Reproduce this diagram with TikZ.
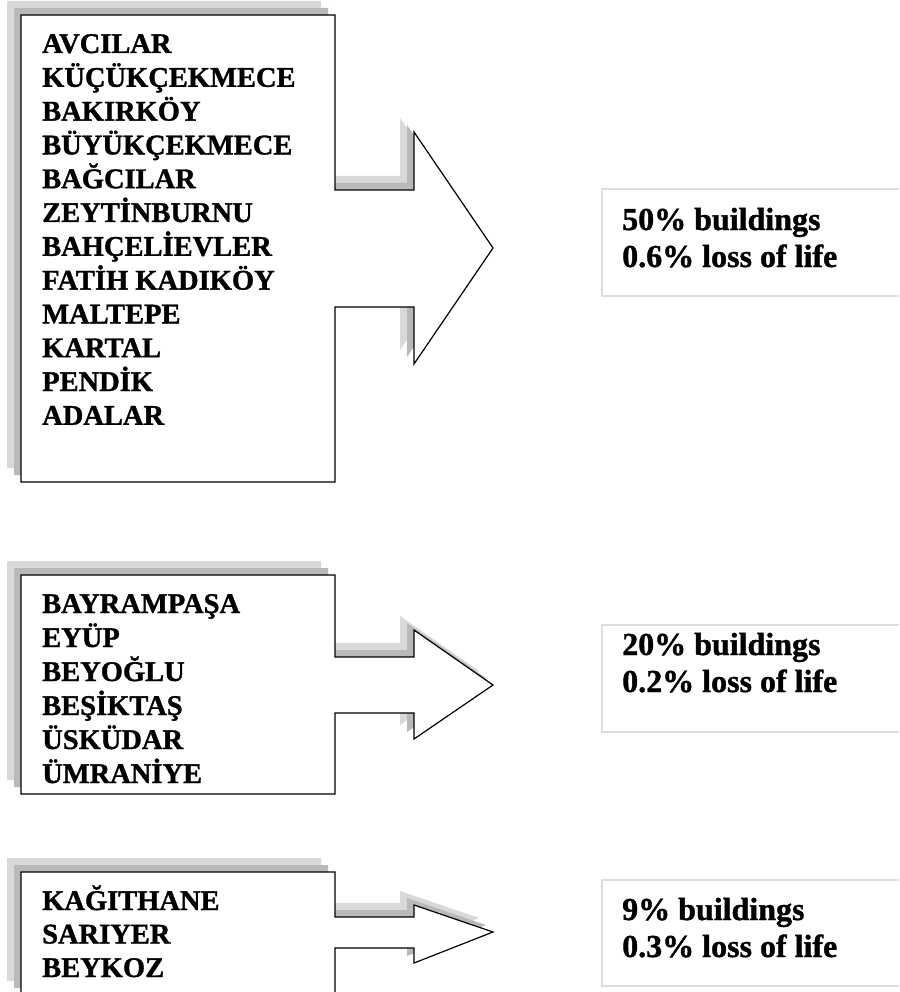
\documentclass[tikz,border=0pt]{standalone}
\usepackage{fontspec}
\setmainfont{Liberation Serif}[BoldFeatures={FakeBold=1.2}]

\tikzset{
  district/.style={anchor=base west, inner sep=0pt, font=\bfseries\fontsize{28.5}{34}\selectfont},
  effect/.style={anchor=base west, inner sep=0pt, font=\bfseries\fontsize{32}{37}\selectfont},
  effectbox/.style={draw=black!13, line width=2pt},
  callout/.style={draw=black, line width=1.2pt, fill=white},
}

\begin{document}
\begin{tikzpicture}[x=1pt, y=-1pt]

    \clip (0,0) rectangle (899,992);

    % --- FRECCE (box + freccia, con ombra in alto a sinistra) ---
    \foreach \yt/\yb/\st/\sb/\ht/\hb/\tip in {15/482/190/307/132/364/248,
                                              575/794/657/713/630/739/685,
                                              872/995/917/948/905/963/932} {
        % ombra: due strati di grigio
        \foreach \off/\col in {14/gray!30, 7/gray!55}
            \fill[\col, shift={(-\off,-\off)}] (21,\yt) -- (335,\yt) -- (335,\st) -- (414,\st) -- (414,\ht)
                -- (493,\tip) -- (414,\hb) -- (414,\sb) -- (335,\sb) -- (335,\yb) -- (21,\yb) -- cycle;
        \draw[callout] (21,\yt) -- (335,\yt) -- (335,\st) -- (414,\st) -- (414,\ht)
            -- (493,\tip) -- (414,\hb) -- (414,\sb) -- (335,\sb) -- (335,\yb) -- (21,\yb) -- cycle;
    }

    % --- DISTRETTI ---
    \foreach \name [count=\i] in {AVCILAR, KÜÇÜKÇEKMECE, BAKIRKÖY, BÜYÜKÇEKMECE, BAĞCILAR,
                                  ZEYTİNBURNU, BAHÇELİEVLER, FATİH KADIKÖY, MALTEPE, KARTAL,
                                  PENDİK, ADALAR}
        \node[district] (ga-\i) at (42, {53+(\i-1)*33.8}) {\name};

    \foreach \name [count=\i] in {BAYRAMPAŞA, EYÜP, BEYOĞLU, BEŞİKTAŞ, ÜSKÜDAR, ÜMRANİYE}
        \node[district] (gb-\i) at (42, {613+(\i-1)*34}) {\name};

    \foreach \name [count=\i] in {KAĞITHANE, SARIYER, BEYKOZ}
        \node[district] (gc-\i) at (42, {910+(\i-1)*33.5}) {\name};

    % --- DANNI ---
    \draw[effectbox] (602,189) rectangle (905,296);
    \node[effect] (da-1) at (622,230) {50\% buildings};
    \node[effect] (da-2) at (622,267) {0.6\% loss of life};

    \draw[effectbox] (602,625) rectangle (905,732);
    \node[effect] (db-1) at (622,655) {20\% buildings};
    \node[effect] (db-2) at (622,692) {0.2\% loss of life};

    \draw[effectbox] (602,880) rectangle (905,986);
    \node[effect] (dc-1) at (622,920) {9\% buildings};
    \node[effect] (dc-2) at (622,957) {0.3\% loss of life};

\end{tikzpicture}
\end{document}
